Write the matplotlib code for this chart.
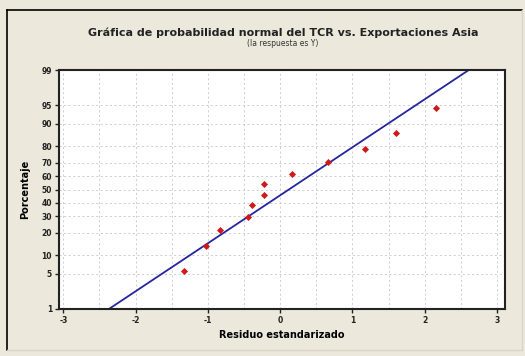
from statistics import NormalDist
import numpy as np
import matplotlib
matplotlib.use("Agg")
import matplotlib.pyplot as plt

# standardized residuals (sorted)
residuos = [-1.33, -1.02, -0.83, -0.44, -0.39, -0.23, -0.22, 0.17, 0.66, 1.17, 1.60, 2.15]
# plotting positions in percent (Minitab style)
porcentajes = [5.6, 13.7, 21.8, 29.8, 37.9, 46.0, 54.0, 62.1, 70.2, 78.2, 86.3, 94.4]
# fitted normal line
mu_ajuste = 0.12
sigma_ajuste = 1.07

y_ticks = [1, 5, 10, 20, 30, 40, 50, 60, 70, 80, 90, 95, 99]
x_ticks = [-3, -2, -1, 0, 1, 2, 3]

nd = NormalDist()
def z(p):
    return nd.inv_cdf(p / 100.0)

fondo = "#ECE9DC"
fig = plt.figure(figsize=(5.25, 3.56), dpi=100, facecolor=fondo)

# outer frame
fig.add_artist(plt.Line2D([7/525, 7/525], [1 - 350/356, 1 - 10/356], color="black", lw=1.2))
fig.add_artist(plt.Line2D([7/525, 522/525], [1 - 10/356, 1 - 10/356], color="black", lw=1.2))
fig.add_artist(plt.Line2D([522/525, 522/525], [1 - 350/356, 1 - 10/356], color="#d8d5cc", lw=1))
fig.add_artist(plt.Line2D([7/525, 522/525], [1 - 350/356, 1 - 350/356], color="#d8d5cc", lw=1))

ax = fig.add_axes([59/525, 1 - 309/356, 446/525, 239/356])
ax.set_facecolor("white")

# grid
for gx in np.arange(-3, 3.01, 0.5):
    ax.axvline(gx, color="#c8c8c8", lw=0.6, ls=(0, (2.5, 3)), zorder=0)
for p in y_ticks[1:-1]:
    ax.axhline(z(p), color="#c8c8c8", lw=0.6, ls=(0, (2.5, 3)), zorder=0)

# fitted line
zz = np.array([z(1), z(99)])
ax.plot(mu_ajuste + sigma_ajuste * zz, zz, color="#25259e", lw=1.3, zorder=2)

# points
ax.scatter(residuos, [z(p) for p in porcentajes], s=13, marker="D",
           color="#d01818", zorder=3, linewidths=0)

ax.set_xlim(-3.06, 3.11)
ax.set_ylim(z(1), z(99))
ax.set_xticks(x_ticks)
ax.set_xticklabels([str(t) for t in x_ticks])
ax.set_yticks([z(p) for p in y_ticks])
ax.set_yticklabels([str(p) for p in y_ticks])
ax.tick_params(axis="both", labelsize=5.5, length=3, width=1, pad=2, colors="#222222")
for lab in ax.get_xticklabels() + ax.get_yticklabels():
    lab.set_fontweight("bold")
for s in ax.spines.values():
    s.set_linewidth(1.5)
    s.set_color("#222222")

ax.set_xlabel("Residuo estandarizado", fontsize=7, fontweight="bold", labelpad=4)
ax.set_ylabel("Porcentaje", fontsize=7, fontweight="bold", labelpad=8)

fig.text(283/525, 1 - 33/356, "Gráfica de probabilidad normal del TCR vs. Exportaciones Asia",
         ha="center", va="center", fontsize=8, fontweight="bold", color="#222222")
fig.text(283/525, 1 - 44/356, "(la respuesta es Y)", ha="center", va="center",
         fontsize=5.5, color="#333333")

fig.savefig("out.png", dpi=100, facecolor=fondo)
